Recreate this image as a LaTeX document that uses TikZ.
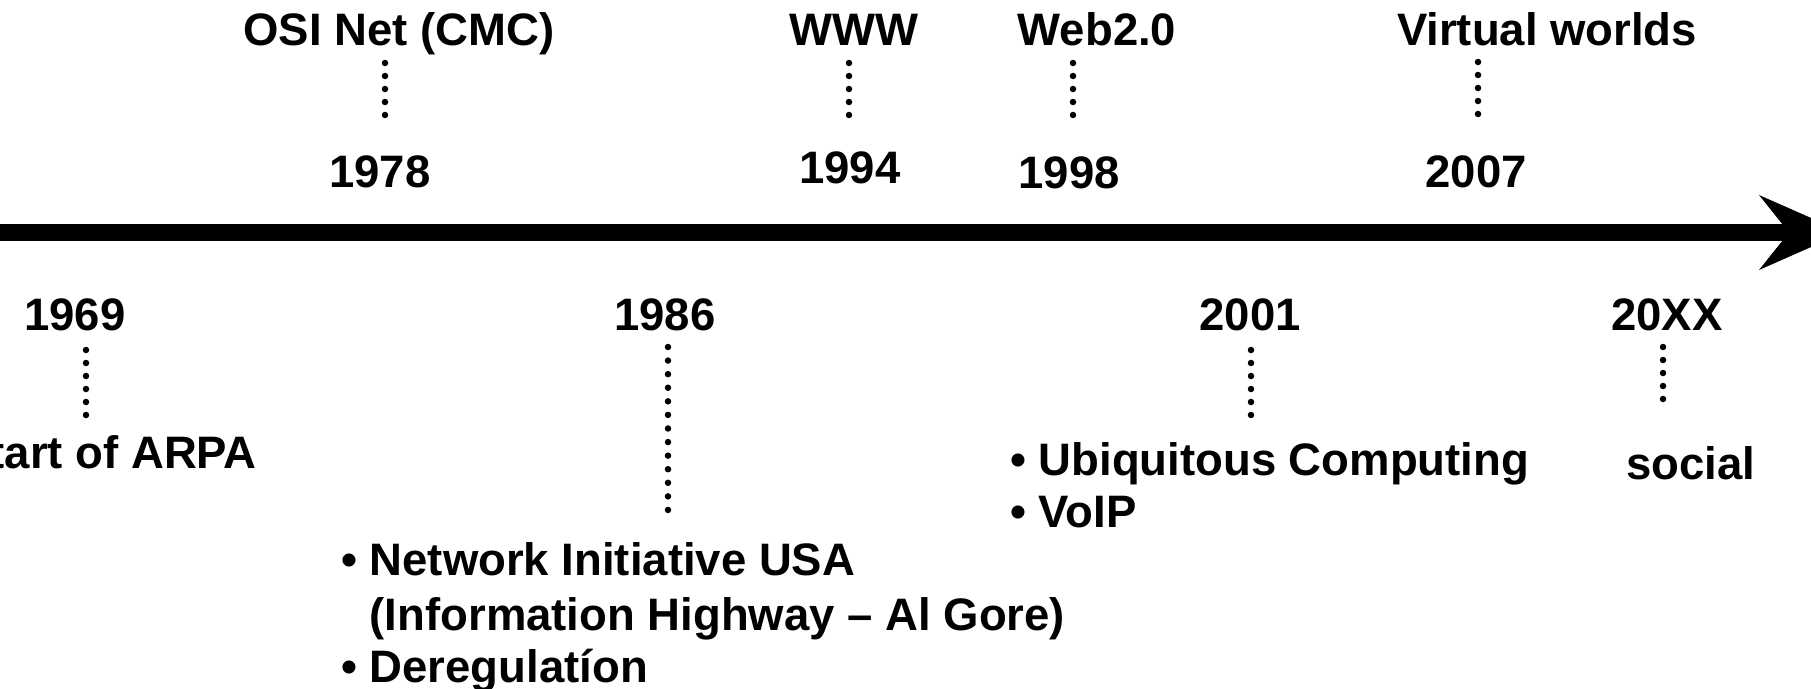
\documentclass[tikz,border=0pt]{standalone}
\usepackage{fontspec}
\setmainfont{Liberation Sans}
\begin{document}
\begin{tikzpicture}[x=1pt,y=-1pt,
  lbl/.style={inner sep=0pt, font=\fontsize{45.5}{54}\selectfont\bfseries, anchor=base},
  lbll/.style={lbl, anchor=base west},
  lblr/.style={lbl, anchor=base east},
  dotline/.style={line width=6.5pt, line cap=round, dash pattern=on 0pt off 13pt},
  axisline/.style={line width=17pt}]
\useasboundingbox (0,0) rectangle (1811,688);
\clip (0,0) rectangle (1811,688);

% timeline axis
\coordinate (tl0) at (-10,232.5);
\coordinate (tl1) at (1792,232.5);
\draw[axisline] (tl0) -- (tl1);
\fill (1759,195) -- (1844,232.5) -- (1759,270) -- (1789,232.5) -- cycle;

% top events
\node[lbl] (osi) at (399,45) {OSI Net (CMC)};
\node[lbl] (y1978) at (380,187) {1978};
\coordinate (d1a) at (385,63); \coordinate (d1b) at (385,128);
\draw[dotline] (d1a) -- (d1b);

\node[lbl] (www) at (854,45) {WWW};
\node[lbl] (y1994) at (850,183) {1994};
\coordinate (d2a) at (849,63); \coordinate (d2b) at (849,128);
\draw[dotline] (d2a) -- (d2b);

\node[lbl] (web) at (1097,45) {Web2.0};
\node[lbl] (y1998) at (1069,188) {1998};
\coordinate (d3a) at (1073,63); \coordinate (d3b) at (1073,128);
\draw[dotline] (d3a) -- (d3b);

\node[lbl] (virt) at (1547,45) {Virtual worlds};
\node[lbl] (y2007) at (1476,187) {2007};
\coordinate (d4a) at (1478,62); \coordinate (d4b) at (1478,127);
\draw[dotline] (d4a) -- (d4b);

% bottom events
\node[lbl] (y1969) at (75,330) {1969};
\coordinate (d5a) at (86,350); \coordinate (d5b) at (86,415);
\draw[dotline] (d5a) -- (d5b);
\node[lblr] (arpa) at (257,468) {Start of ARPA};

\node[lbl] (y1986) at (665,330) {1986};
\coordinate (d6a) at (668,347); \coordinate (d6b) at (668,510);
\draw[dotline, dash pattern=on 0pt off 13.58pt] (d6a) -- (d6b);
\node[lbll] (net1) at (341,575) {\textbullet\ Network Initiative USA};
\node[lbll] (net2) at (341,630) {\phantom{\textbullet\ }(Information Highway -- Al Gore)};
\node[lbll] (net3) at (341,682) {\textbullet\ Deregulatíon};

\node[lbl] (y2001) at (1250,330) {2001};
\coordinate (d7a) at (1251,350); \coordinate (d7b) at (1251,415);
\draw[dotline] (d7a) -- (d7b);
\node[lbll] (ubi) at (1010,475) {\textbullet\ Ubiquitous Computing};
\node[lbll] (voip) at (1010,527) {\textbullet\ VoIP};

\node[lbl] (y20xx) at (1667,330) {20XX};
\coordinate (d8a) at (1663,347); \coordinate (d8b) at (1663,412);
\draw[dotline] (d8a) -- (d8b);
\node[lbl] (social) at (1691,479) {social};
\end{tikzpicture}
\end{document}
